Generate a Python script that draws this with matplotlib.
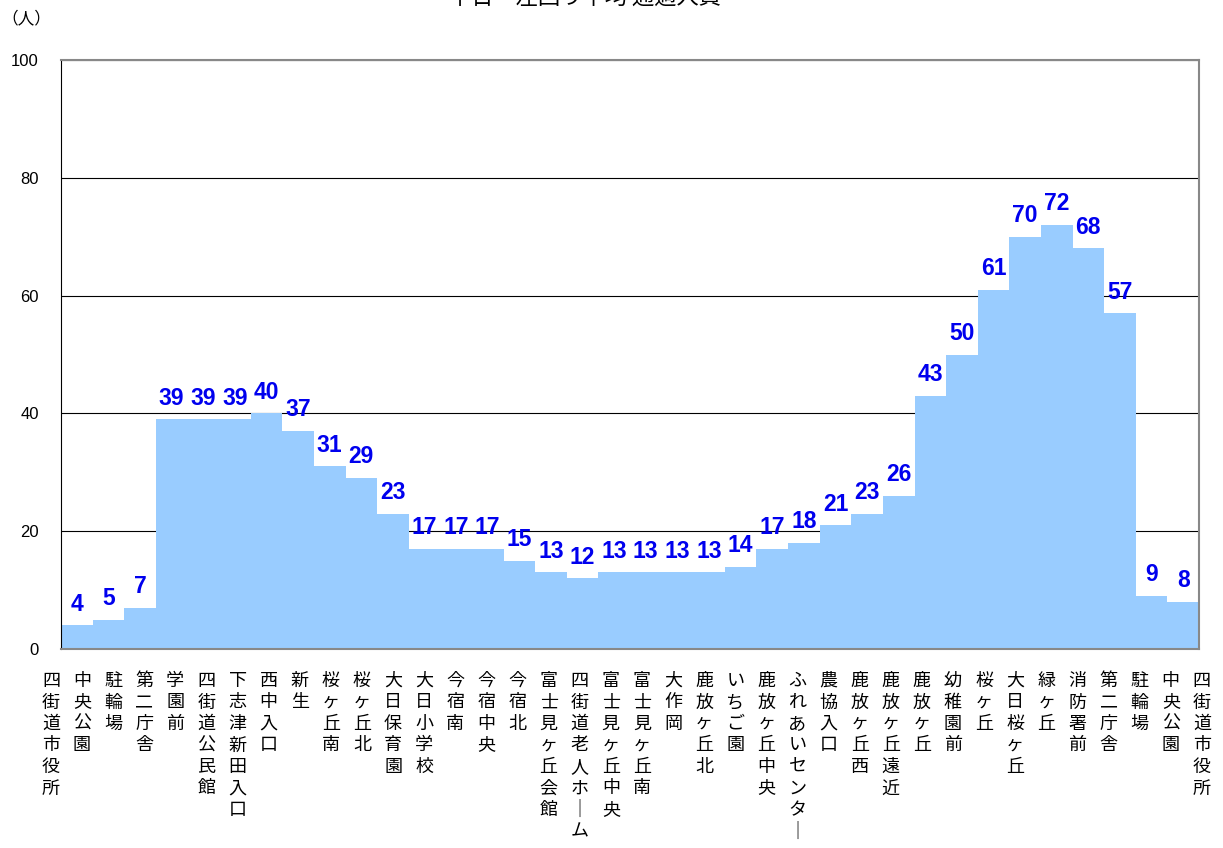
import matplotlib
matplotlib.use("Agg")
import matplotlib.pyplot as plt
import numpy as np

stops = ["四街道市役所", "中央公園", "駐輪場", "第二庁舎", "学園前", "四街道公民館",
         "下志津新田入口", "西中入口", "新生", "桜ヶ丘南", "桜ヶ丘北", "大日保育園",
         "大日小学校", "今宿南", "今宿中央", "今宿北", "富士見ヶ丘会館", "四街道老人ホーム",
         "富士見ヶ丘中央", "富士見ヶ丘南", "大作岡", "鹿放ヶ丘北", "いちご園", "鹿放ヶ丘中央",
         "ふれあいセンター", "農協入口", "鹿放ヶ丘西", "鹿放ヶ丘遠近", "鹿放ヶ丘", "幼稚園前",
         "桜ヶ丘", "大日桜ヶ丘", "緑ヶ丘", "消防署前", "第二庁舎", "駐輪場", "中央公園",
         "四街道市役所"]
riders = [4, 5, 7, 39, 39, 39, 40, 37, 31, 29, 23, 17, 17, 17, 15, 13, 12, 13,
          13, 13, 13, 14, 17, 18, 21, 23, 26, 43, 50, 61, 70, 72, 68, 57, 9, 8]
yticks = [0, 20, 40, 60, 80, 100]

plt.rcParams["font.family"] = ["Noto Sans CJK JP", "DejaVu Sans"]

fig = plt.figure(figsize=(12.23, 8.48), dpi=100)
ax = fig.add_axes([61 / 1223, 1 - 649 / 848, 1138 / 1223, 589 / 848])

n = len(riders)
xs = np.arange(n) + 0.5
ax.bar(xs, riders, width=1.0, color="#99CCFF", zorder=2, linewidth=0)

for x, v in zip(xs, riders):
    ax.annotate(str(v), (x, v), xytext=(0, 7), textcoords="offset points",
                ha="center", va="bottom", color="#0000EE", fontsize=16.5,
                fontweight="bold", family="Liberation Sans", zorder=3)

ax.set_xlim(0, n)
ax.set_ylim(0, 100)
ax.set_yticks(yticks)
ax.set_yticklabels([str(t) for t in yticks], family="Liberation Sans", fontsize=12)
ax.tick_params(axis="y", length=0, pad=16)
ax.set_xticks([])
ax.grid(axis="y", color="black", linewidth=0.8, zorder=1)
ax.set_axisbelow(True)

ax.spines["left"].set_color("black")
for side in ("top", "right", "bottom"):
    ax.spines[side].set_color("#888888")
    ax.spines[side].set_linewidth(1.5)

# vertical stop names, slightly wider spacing than the bars
label_x = np.linspace(-0.32, n + 0.09, len(stops))
for x, name in zip(label_x, stops):
    txt = "\n".join(name.replace("ー", "｜"))
    ax.text(x, -0.039, txt, transform=ax.get_xaxis_transform(), ha="center",
            va="top", fontsize=13, linespacing=1.25, clip_on=False)

fig.text(1 / 1223, 1 - 19 / 848, "（人）", ha="left", va="center", fontsize=12)
fig.text(585 / 1223, 1 + 3 / 848, "平日　左回り平均 通過人員", ha="center",
         va="center", fontsize=16)

fig.savefig("out.png", dpi=100)
